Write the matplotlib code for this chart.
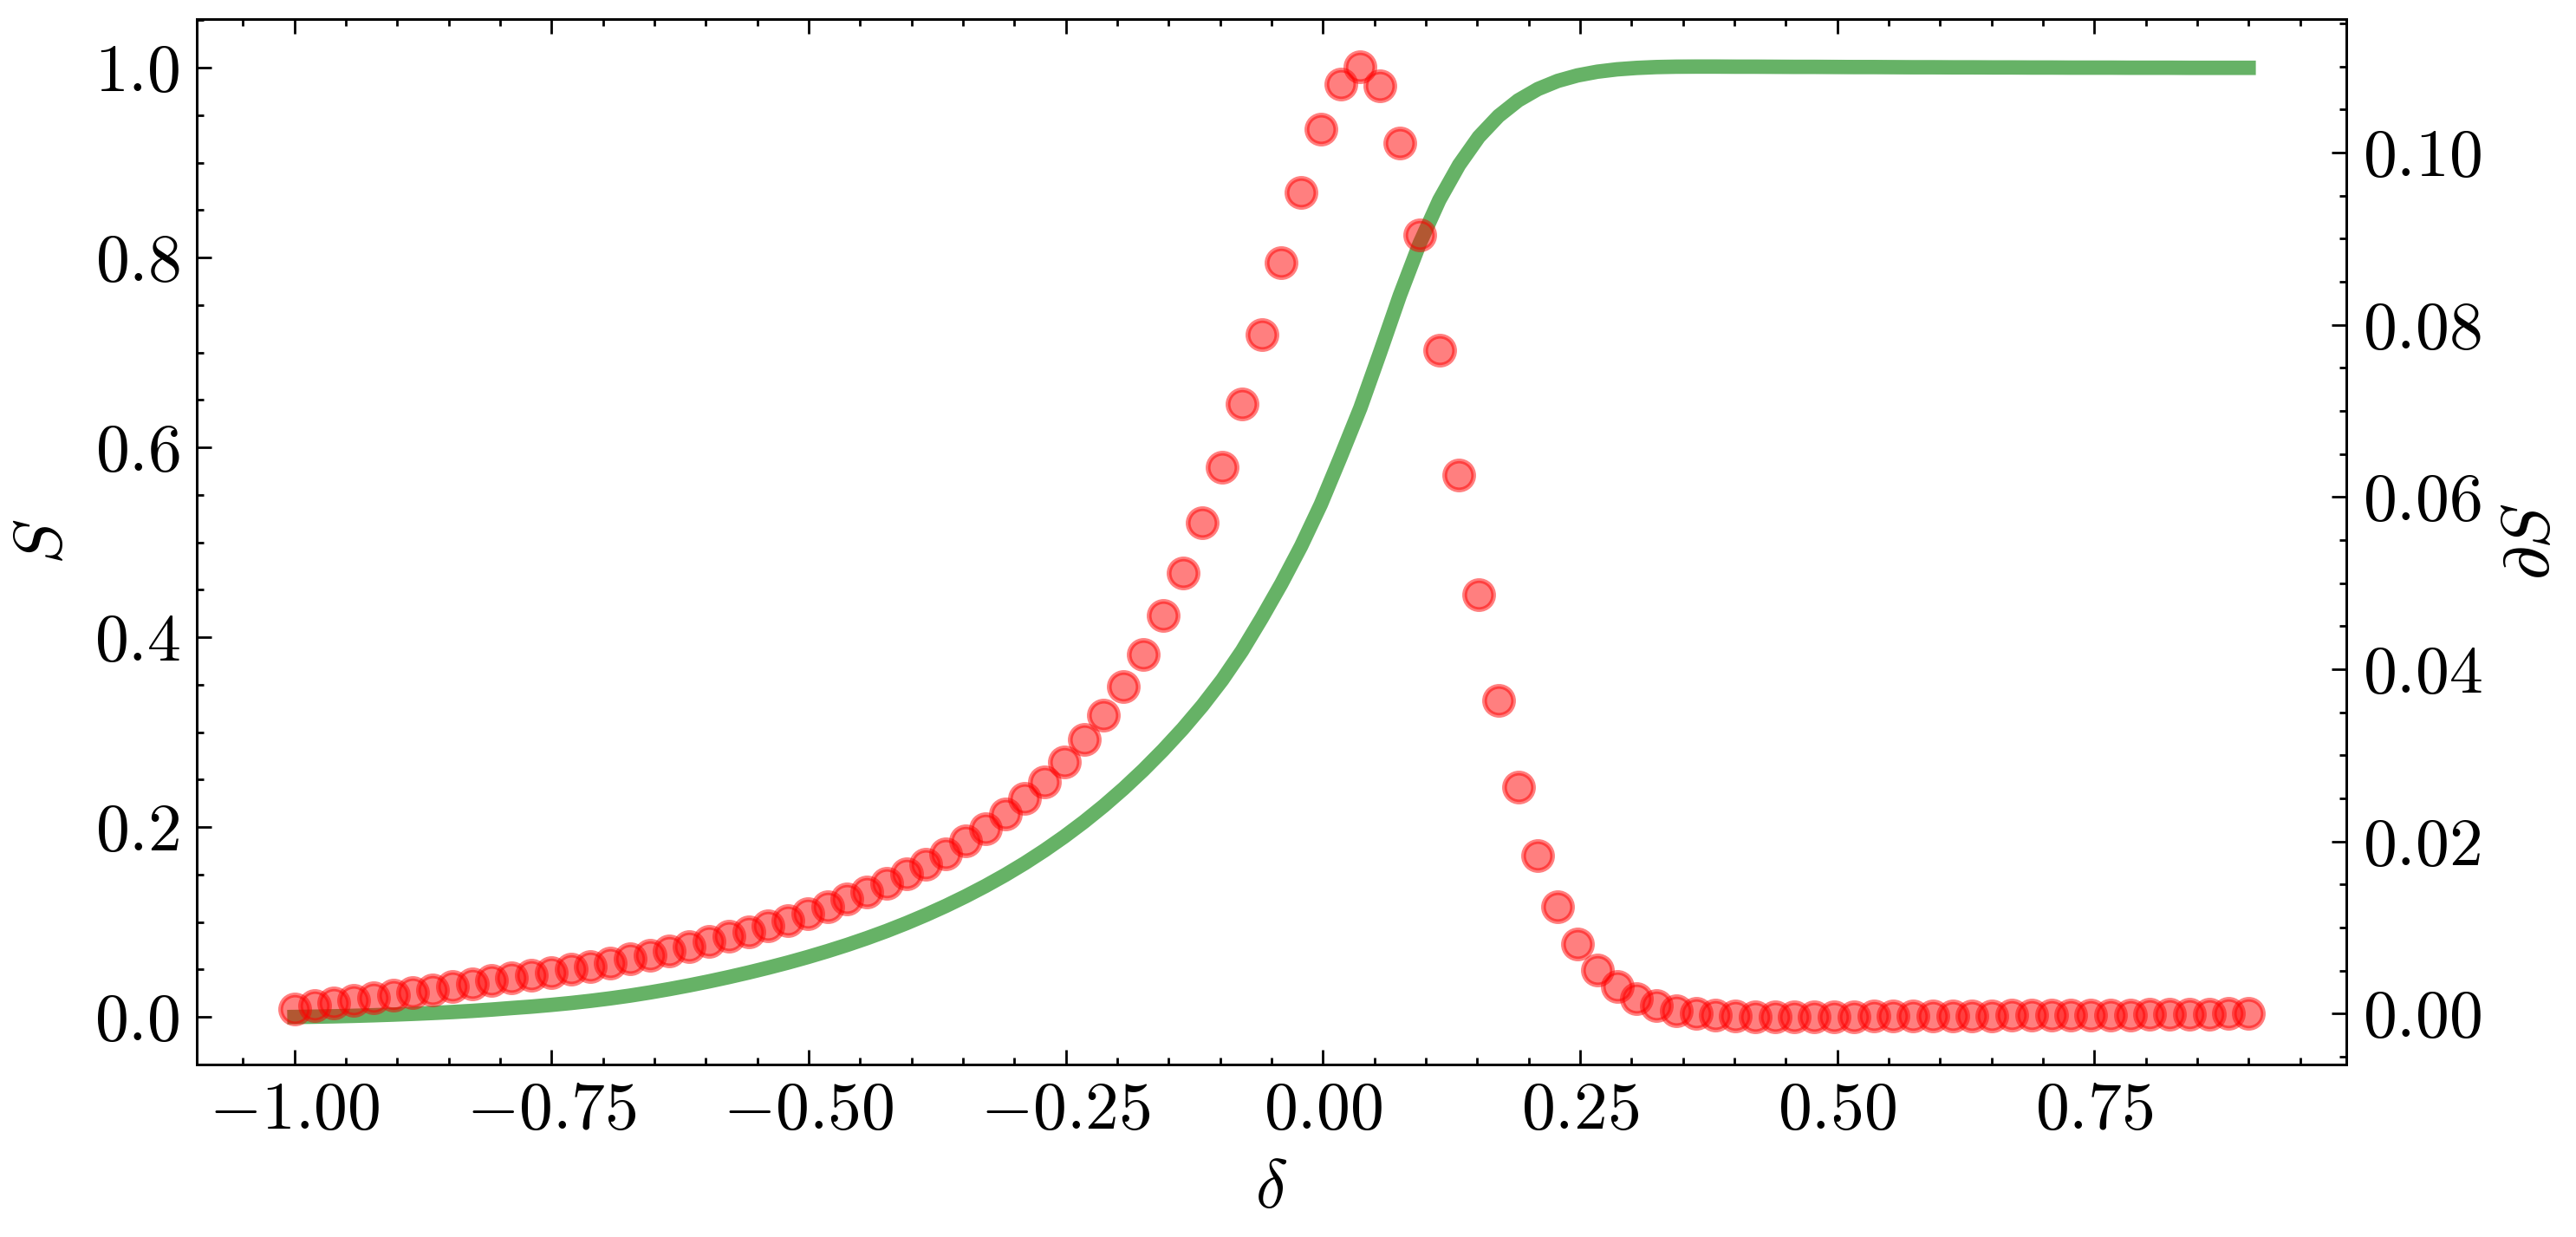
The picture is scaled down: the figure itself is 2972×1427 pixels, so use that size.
import numpy as np
import matplotlib
matplotlib.use("Agg")
import matplotlib.pyplot as plt
from matplotlib.ticker import MultipleLocator, AutoMinorLocator

plt.rcParams['font.family'] = 'cmr10'
plt.rcParams['mathtext.fontset'] = 'cm'
plt.rcParams['axes.formatter.use_mathtext'] = True
plt.rcParams['font.size'] = 14
plt.rcParams['axes.linewidth'] = 0.5

# 100 evenly spaced samples of delta, from -1 to 0.9
delta = np.linspace(-1.0, 0.9, 100)

# S (green line, left axis)
S = [
    0.0000, 0.0003, 0.0007, 0.0012, 0.0018, 0.0025, 0.0033, 0.0042, 0.0052, 0.0064,
    0.0078, 0.0094, 0.0109, 0.0127, 0.0147, 0.0170, 0.0196, 0.0225, 0.0258, 0.0294,
    0.0333, 0.0375, 0.0420, 0.0468, 0.0519, 0.0573, 0.0631, 0.0693, 0.0759, 0.0830,
    0.0906, 0.0988, 0.1076, 0.1170, 0.1271, 0.1379, 0.1495, 0.1620, 0.1755, 0.1900,
    0.2056, 0.2224, 0.2405, 0.2600, 0.2810, 0.3035, 0.3280, 0.3550, 0.3855, 0.4200,
    0.4565, 0.4960, 0.5400, 0.5900, 0.6415, 0.7000, 0.7600, 0.8145, 0.8605, 0.8975,
    0.9270, 0.9490, 0.9655, 0.9775, 0.9860, 0.9918, 0.9957, 0.9982, 0.9997, 1.0006,
    1.0010, 1.0011, 1.0011, 1.0010, 1.0010, 1.0009, 1.0008, 1.0008, 1.0007, 1.0006,
    1.0006, 1.0005, 1.0004, 1.0004, 1.0003, 1.0003, 1.0002, 1.0002, 1.0001, 1.0001,
    1.0000, 1.0000, 1.0000, 0.9999, 0.9999, 0.9999, 0.9998, 0.9998, 0.9998, 0.9998,
]

# dS (red dots, right axis)
dS = [
    0.0005, 0.0009, 0.0012, 0.0015, 0.0018, 0.0021, 0.0024, 0.0027, 0.0031, 0.0034,
    0.0038, 0.0041, 0.0045, 0.0048, 0.0052, 0.0055, 0.0059, 0.0064, 0.0068, 0.0073,
    0.0078, 0.0084, 0.0090, 0.0095, 0.0102, 0.0108, 0.0116, 0.0124, 0.0133, 0.0141,
    0.0151, 0.0162, 0.0173, 0.0185, 0.0201, 0.0215, 0.0232, 0.0250, 0.0269, 0.0292,
    0.0318, 0.0347, 0.0380, 0.0417, 0.0462, 0.0512, 0.0570, 0.0635, 0.0708, 0.0789,
    0.0872, 0.0954, 0.1027, 0.1080, 0.1100, 0.1078, 0.1011, 0.0904, 0.0771, 0.0626,
    0.0487, 0.0364, 0.0263, 0.0183, 0.0124, 0.0081, 0.0051, 0.0031, 0.0017, 0.0009,
    0.0003, 0.0000, -0.0002, -0.0003, -0.0004, -0.0004, -0.0004, -0.0004, -0.0004, -0.0004,
    -0.0003, -0.0003, -0.0003, -0.0003, -0.0003, -0.0003, -0.0003, -0.0002, -0.0002, -0.0002,
    -0.0002, -0.0002, -0.0002, -0.0002, -0.0001, -0.0001, -0.0001, -0.0001, 0.0000, 0.0000,
]

fig = plt.figure(figsize=(2972 / 400, 1427 / 400), dpi=400)
ax = fig.add_axes([227 / 2972, 1 - 1228 / 1427, (2707 - 227) / 2972, (1228 - 22) / 1427])
ax2 = ax.twinx()

ax.plot(delta, S, color='green', lw=3, alpha=0.6)
ax2.plot(delta, dS, 'o', color='red', alpha=0.5, markersize=6)

ax.set_xlabel(r'$\delta$')
ax.set_ylabel(r'$S$')
ax2.set_ylabel(r'$\partial S$')

ax.xaxis.set_major_locator(MultipleLocator(0.25))
ax.xaxis.set_minor_locator(MultipleLocator(0.05))
ax.yaxis.set_major_locator(MultipleLocator(0.2))
ax.yaxis.set_minor_locator(AutoMinorLocator(4))
ax2.yaxis.set_major_locator(MultipleLocator(0.02))
ax2.yaxis.set_minor_locator(AutoMinorLocator(4))

ax.tick_params(which='both', direction='in', top=True, right=False, width=0.5)
ax.tick_params(which='major', length=3)
ax.tick_params(which='minor', length=1.5)
ax2.tick_params(which='both', direction='in', width=0.5)
ax2.tick_params(which='major', length=3)
ax2.tick_params(which='minor', length=1.5)

fig.savefig('out.png', dpi=400)
